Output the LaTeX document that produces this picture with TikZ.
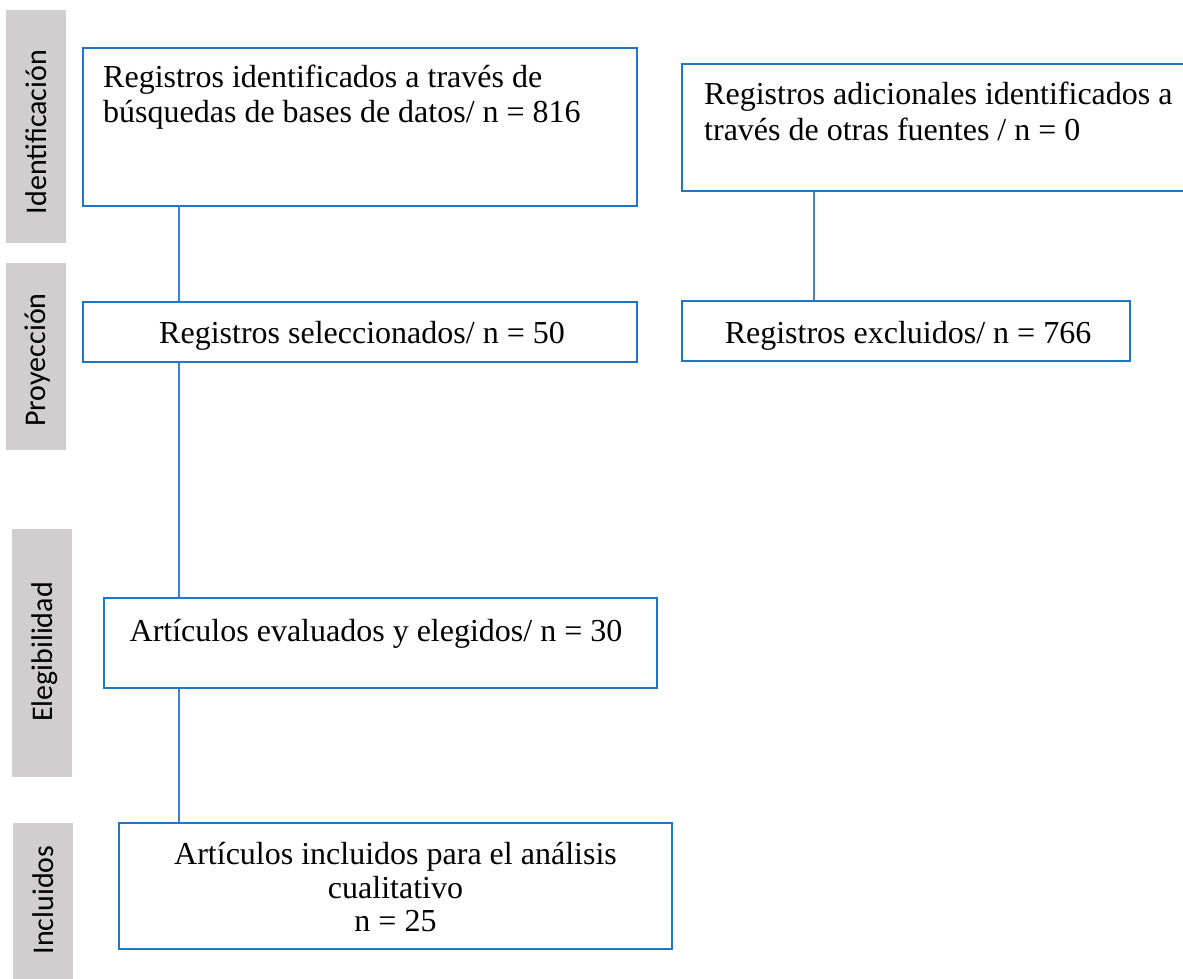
\documentclass[tikz,border=0pt]{standalone}
\usepackage{fontspec}
\setmainfont{Liberation Serif}
\newfontfamily\labelfont{Carlito}
\definecolor{boxblue}{RGB}{30,118,200}
\definecolor{lineblue}{RGB}{60,130,205}
\definecolor{phasegray}{RGB}{208,206,206}
\begin{document}
\begin{tikzpicture}[x=1pt,y=-1pt,
  flowbox/.style={draw=boxblue, line width=2pt, fill=white, rectangle, inner sep=0pt},
  phasebox/.style={fill=phasegray, rectangle, inner sep=0pt, minimum width=60},
  phasetext/.style={font=\labelfont\fontsize{30}{36}\selectfont, rotate=90, anchor=base, inner sep=0pt},
  boxtext/.style={font=\fontsize{32}{36}\selectfont, inner sep=0pt},
  conn/.style={draw=lineblue, line width=1.5pt}]
\useasboundingbox (0,0) rectangle (1183,979);
\begin{scope}
\clip (0,0) rectangle (1183,979);
% phase labels
\node[phasebox, minimum height=233] (g1) at (36,126.5) {};
\node[phasebox, minimum height=187] (g2) at (36,356.5) {};
\node[phasebox, minimum height=248] (g3) at (42,653) {};
\node[phasebox, minimum height=156] (g4) at (43,901) {};
\node[phasetext] (l1) at (46.5,132) {Identificación};
\node[phasetext] (l2) at (45.5,360) {Proyección};
\node[phasetext] (l3) at (52,652) {Elegibilidad};
\node[phasetext] (l4) at (53,900) {Incluidos};
% boxes
\node[flowbox, minimum width=554, minimum height=158] (b1) at (360,127) {};
\node[flowbox, minimum width=513, minimum height=127] (b2) at (938.5,127.5) {};
\node[flowbox, minimum width=554, minimum height=60] (b3) at (360,332) {};
\node[flowbox, minimum width=448, minimum height=60] (b4) at (906,331) {};
\node[flowbox, minimum width=553, minimum height=90] (b5) at (380.5,643) {};
\node[flowbox, minimum width=553, minimum height=126] (b6) at (395.5,886) {};
% texts
\node[boxtext, anchor=base west] (t1a) at (103,88) {Registros identificados a través de};
\node[boxtext, anchor=base west] (t1b) at (103,123) {búsquedas de bases de datos/ n = 816};
\node[boxtext, anchor=base west] (t2a) at (704,105) {Registros adicionales identificados a};
\node[boxtext, anchor=base west] (t2b) at (704,140) {través de otras fuentes / n = 0};
\node[boxtext, anchor=base] (t3) at (362,343) {Registros seleccionados/ n = 50};
\node[boxtext, anchor=base] (t4) at (908,343) {Registros excluidos/ n = 766};
\node[boxtext, anchor=base] (t5) at (376,641) {Artículos evaluados y elegidos/ n = 30};
\node[boxtext, anchor=base] (t6a) at (395.5,864) {Artículos incluidos para el análisis};
\node[boxtext, anchor=base] (t6b) at (395.5,898) {cualitativo};
\node[boxtext, anchor=base] (t6c) at (395.5,931) {n = 25};
% connectors
\coordinate (cl) at (179,0);
\coordinate (cr) at (814,0);
\draw[conn] (b1.south -| cl) -- (b3.north -| cl);
\draw[conn] (b3.south -| cl) -- (b5.north -| cl);
\draw[conn] (b5.south -| cl) -- (b6.north -| cl);
\draw[conn] (b2.south -| cr) -- (b4.north -| cr);
\end{scope}
\end{tikzpicture}
\end{document}
